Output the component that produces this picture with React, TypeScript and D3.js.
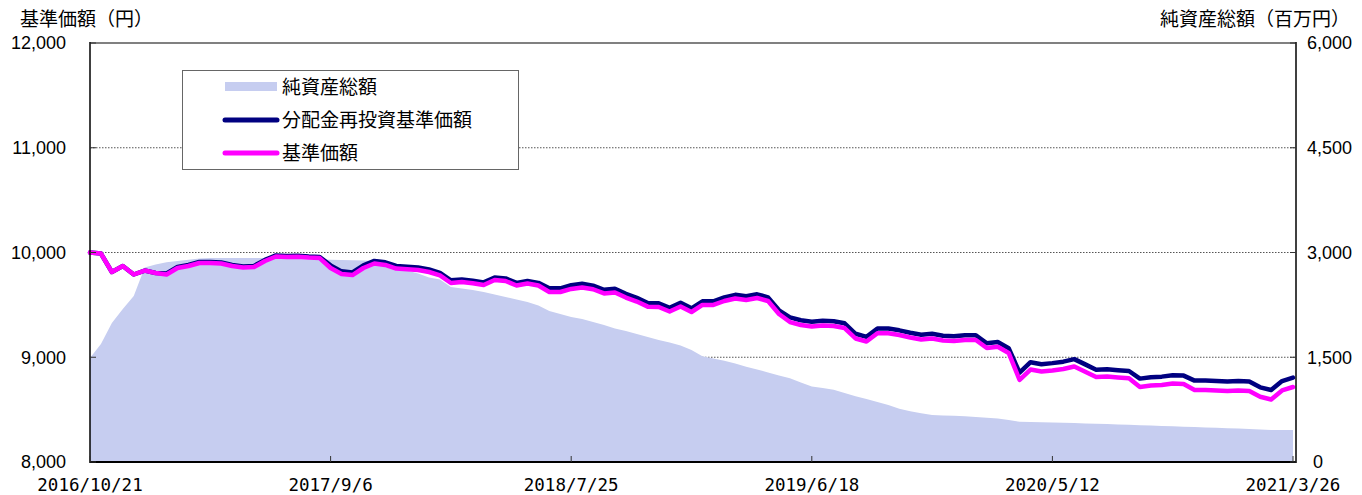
import React from 'react';
import * as d3 from 'd3';

const xTickLabels = ['2016/10/21', '2017/9/6', '2018/7/25', '2019/6/18', '2020/5/12', '2021/3/26'];
const xTickIndex = [0, 220, 440, 660, 880, 1100];
const sampleStep = 10;

const nav = [
  10000, 9990, 9814, 9871, 9790, 9828, 9804, 9790, 9852, 9871, 9900, 9900, 9895, 9871, 9857, 9862, 9919, 9962, 9957, 9960, 9952, 9947,
  9852, 9795, 9785, 9852, 9895, 9881, 9847, 9840, 9833, 9814, 9781, 9709, 9718, 9706, 9690, 9737, 9728, 9685, 9704, 9685,
  9623, 9623, 9652, 9666, 9649, 9609, 9618, 9570, 9532, 9483, 9480, 9437, 9485, 9432, 9499, 9499, 9537, 9561, 9547, 9566, 9537, 9413,
  9336, 9308, 9294, 9303, 9298, 9279, 9179, 9150, 9229, 9229, 9212, 9189, 9169, 9179, 9160, 9155, 9165, 9165, 9088, 9100, 9041,
  8783, 8883, 8864, 8874, 8888, 8912, 8862, 8811, 8816, 8807, 8799,
  8716, 8730, 8735, 8749, 8745,
  8687, 8687, 8683, 8678, 8683, 8678, 8623, 8597, 8683, 8716,
];

const navReinvested = [
  10000, 9990, 9814, 9871, 9790, 9828, 9804, 9800, 9862, 9881, 9910, 9910, 9905, 9881, 9867, 9872, 9929, 9972, 9967, 9970, 9962, 9957,
  9877, 9820, 9810, 9877, 9920, 9906, 9872, 9865, 9858, 9839, 9806, 9734, 9743, 9731, 9715, 9762, 9753, 9710, 9729, 9710,
  9658, 9658, 9687, 9701, 9684, 9644, 9653, 9605, 9567, 9518, 9515, 9472, 9520, 9467, 9534, 9534, 9572, 9596, 9582, 9601, 9572, 9448,
  9381, 9353, 9339, 9348, 9343, 9324, 9224, 9195, 9274, 9274, 9257, 9234, 9214, 9224, 9205, 9200, 9210, 9210, 9133, 9145, 9086,
  8853, 8953, 8934, 8944, 8958, 8982, 8932, 8881, 8886, 8877, 8869,
  8796, 8810, 8815, 8829, 8825,
  8777, 8777, 8773, 8768, 8773, 8768, 8713, 8687, 8773, 8806,
];

const netAssets = [
  1489, 1690, 1990, 2191, 2377, 2785, 2828, 2860, 2878, 2897, 2914,
  2921, 2921, 2921, 2921, 2921, 2921,
  2918, 2914, 2907, 2904, 2900, 2895, 2893, 2888, 2884, 2878, 2871,
  2821, 2742, 2699, 2642, 2613, 2506, 2485, 2463, 2434, 2399, 2363, 2327, 2291, 2241,
  2162, 2119, 2076, 2048, 2005, 1962, 1912, 1876, 1833, 1790, 1747, 1711, 1668, 1604,
  1514, 1482, 1451, 1410, 1364, 1325, 1282, 1239, 1199, 1138, 1081, 1060, 1035, 988,
  942, 902, 859, 816, 763, 726, 697, 673, 667, 662, 656, 644, 633, 623,
  601, 577, 573, 568, 566, 563, 558, 553, 548, 544, 538, 533, 527, 521,
  516, 511, 505, 501, 495, 491, 485, 480, 473, 465, 458, 458, 458,
];

const leftTicks = [8000, 9000, 10000, 11000, 12000];
const rightTicks = [0, 1500, 3000, 4500, 6000];
const gridTicks = [9000, 10000, 11000];

const legendItems = ['純資産総額', '分配金再投資基準価額', '基準価額'];
const leftTitle = '基準価額（円）';
const rightTitle = '純資産総額（百万円）';

const W = 1362;
const H = 495;
const plot = { left: 90, right: 1296, top: 43, bottom: 462, dataRight: 1293 };

const CJK = '"Noto Sans CJK JP", "Noto Sans", sans-serif';
const NUM = '"Liberation Sans", Arial, sans-serif';
const MONO = '"DejaVu Sans Mono", "Liberation Mono", monospace';

export default function App() {
  const x = d3.scaleLinear().domain([0, 1100]).range([plot.left, plot.dataRight]);
  const yL = d3.scaleLinear().domain([8000, 12000]).range([plot.bottom, plot.top]);
  const yR = d3.scaleLinear().domain([0, 6000]).range([plot.bottom, plot.top]);

  const areaGen = d3
    .area<number>()
    .x((_, i) => x(i * sampleStep))
    .y0(yR(0))
    .y1((d) => yR(d));
  const lineGen = d3
    .line<number>()
    .x((_, i) => x(i * sampleStep))
    .y((d) => yL(d));

  return (
    <svg width={W} height={H} style={{ position: 'absolute', left: 0, top: 0, background: '#fff' }}>
      <rect x={0} y={0} width={W} height={H} fill="#fff" />
      {gridTicks.map((t) => (
        <line key={t} x1={plot.left} x2={plot.right} y1={yL(t)} y2={yL(t)} stroke="#555" strokeWidth={1} strokeDasharray="1.5,1.5" />
      ))}
      <path d={areaGen(netAssets) || ''} fill="#c6cdf0" />
      <path d={lineGen(navReinvested) || ''} fill="none" stroke="#000080" strokeWidth={4.5} strokeLinejoin="round" strokeLinecap="round" />
      <path d={lineGen(nav) || ''} fill="none" stroke="#ff00ff" strokeWidth={4.5} strokeLinejoin="round" strokeLinecap="round" />

      <line x1={plot.left} x2={plot.right} y1={plot.top} y2={plot.top} stroke="#808080" strokeWidth={2} />
      <line x1={plot.left} x2={plot.left} y1={plot.top - 1} y2={plot.bottom + 1} stroke="#000" strokeWidth={1.5} />
      <line x1={plot.right} x2={plot.right} y1={plot.top - 1} y2={plot.bottom + 1} stroke="#000" strokeWidth={1.5} />
      <line x1={plot.left} x2={plot.right} y1={plot.bottom} y2={plot.bottom} stroke="#000" strokeWidth={2} />

      {leftTicks.map((t) => (
        <g key={'l' + t}>
          <line x1={plot.left} x2={plot.left + 6} y1={yL(t)} y2={yL(t)} stroke="#333" strokeWidth={1} />
          <text x={66} y={yL(t)} dy="0.36em" textAnchor="end" fontFamily={NUM} fontSize={18} fill="#000">
            {d3.format(',')(t)}
          </text>
        </g>
      ))}
      {rightTicks.map((t) => (
        <g key={'r' + t}>
          <line x1={plot.right - 6} x2={plot.right} y1={yR(t)} y2={yR(t)} stroke="#333" strokeWidth={1} />
          <text x={t === 0 ? 1313 : 1307} y={yR(t)} dy="0.36em" textAnchor="start" fontFamily={NUM} fontSize={18} fill="#000">
            {d3.format(',')(t)}
          </text>
        </g>
      ))}
      {xTickIndex.map((t, i) => (
        <g key={'x' + t}>
          <line x1={x(t)} x2={x(t)} y1={plot.bottom} y2={plot.bottom - 6} stroke="#333" strokeWidth={1} />
          <text x={x(t)} y={491} textAnchor="middle" fontFamily={MONO} fontSize={17.5} fill="#000">
            {xTickLabels[i]}
          </text>
        </g>
      ))}

      <text x={20} y={26} fontFamily={CJK} fontSize={19} fill="#000">{leftTitle}</text>
      <text x={1350} y={26} textAnchor="end" fontFamily={CJK} fontSize={19} fill="#000">{rightTitle}</text>

      <g>
        <rect x={182.5} y={70.5} width={336} height={99} fill="#fff" stroke="#666" strokeWidth={1} />
        <rect x={225} y={82} width={52} height={9} fill="#c6cdf0" />
        <line x1={225} x2={277} y1={120} y2={120} stroke="#000080" strokeWidth={5} strokeLinecap="round" />
        <line x1={225} x2={277} y1={153} y2={153} stroke="#ff00ff" strokeWidth={5} strokeLinecap="round" />
        {legendItems.map((s, i) => (
          <text key={s} x={282} y={87 + i * 33} dy="0.36em" fontFamily={CJK} fontSize={19} fill="#000">
            {s}
          </text>
        ))}
      </g>
    </svg>
  );
}
